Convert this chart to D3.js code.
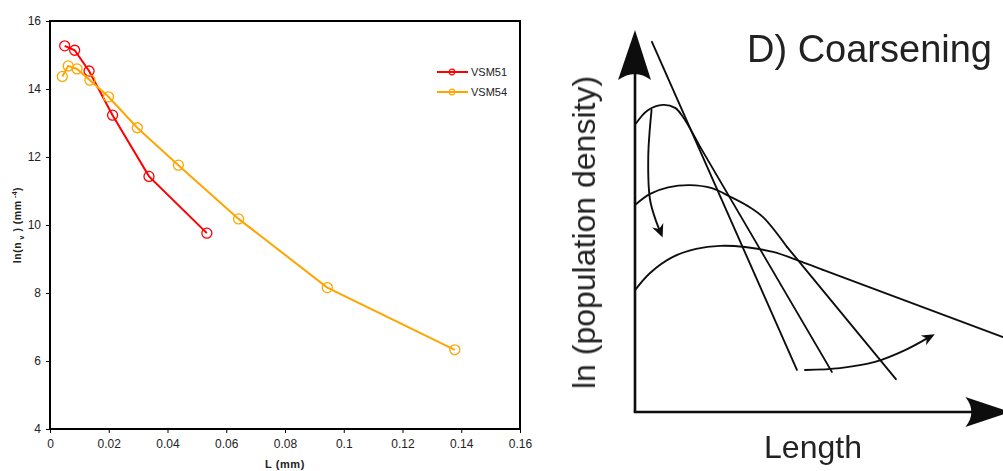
<!DOCTYPE html>
<html>
<head>
<meta charset="utf-8">
<script src="https://cdn.jsdelivr.net/npm/d3@7"></script>
<style>
  html, body { margin: 0; padding: 0; background: #fff; }
  svg { display: block; font-family: Arial, "Liberation Sans", sans-serif; }
</style>
</head>
<body>
<svg id="fig" width="1003" height="471"></svg>
<script>
// ---- Measured crystal size distributions ----
const vsm51L = [0.0050, 0.0084, 0.0133, 0.0213, 0.0337, 0.0534];
const vsm51N = [15.27, 15.14, 14.53, 13.23, 11.43, 9.76];
const vsm54L = [0.0042, 0.0062, 0.0092, 0.0136, 0.0199, 0.0297, 0.0437, 0.0642, 0.0944, 0.1378];
const vsm54N = [14.37, 14.68, 14.59, 14.26, 13.77, 12.86, 11.76, 10.18, 8.16, 6.33];
const seriesNames = ["VSM51", "VSM54"];
const seriesColors = ["#ff0000", "#ffa500"];
const xTicks = [0, 0.02, 0.04, 0.06, 0.08, 0.1, 0.12, 0.14, 0.16];
const yTicks = [4, 6, 8, 10, 12, 14, 16];

// ---- Schematic of coarsening (arbitrary units: length 0-10, ln density 0-10) ----
const steepLine = [[0.46, 9.69], [4.40, 1.10]];
const humpA = [[0.03, 7.56], [0.35, 7.90], [0.76, 8.04], [1.09, 7.96], [1.30, 7.73], [1.77, 6.94]];
const tailA = [[1.77, 6.94], [5.35, 1.05]];
const humpB = [[0, 5.42], [0.41, 5.71], [0.90, 5.88], [1.49, 5.94], [2.09, 5.86], [2.58, 5.64], [3.07, 5.39], [3.48, 5.10], [4.13, 4.32]];
const tailB = [[4.13, 4.32], [7.09, 0.86]];
const humpC = [[0, 3.19], [0.41, 3.64], [1.03, 4.06], [1.66, 4.27], [2.31, 4.35], [2.99, 4.32], [3.75, 4.19], [4.48, 3.95], [5.11, 3.72]];
const tailC = [[5.11, 3.72], [10.0, 1.96]];
const arrowDown = [[0.45, 7.91], [0.36, 6.68], [0.41, 5.55], [0.59, 4.95], [0.67, 4.76]];
const arrowRight = [[4.62, 1.10], [5.57, 1.15], [6.52, 1.31], [7.34, 1.62], [7.96, 1.94]];

const svg = d3.select("#fig");

// ================= Left: measured distributions =================
const x = d3.scaleLinear().domain([0, 0.16]).range([50, 520]);
const y = d3.scaleLinear().domain([4, 16]).range([429, 21]);

const chart = svg.append("g");

chart.append("rect")
  .attr("x", x(0)).attr("y", y(16))
  .attr("width", x(0.16) - x(0)).attr("height", y(4) - y(16))
  .attr("fill", "none").attr("stroke", "#000").attr("stroke-width", 2);

const xAxis = chart.append("g")
  .attr("transform", `translate(0,${y(4)})`)
  .call(d3.axisBottom(x).tickValues(xTicks).tickSize(4).tickPadding(6)
    .tickFormat(d => d3.format("~g")(d)));
const yAxis = chart.append("g")
  .attr("transform", `translate(${x(0)},0)`)
  .call(d3.axisLeft(y).tickValues(yTicks).tickSize(4).tickPadding(5));
[xAxis, yAxis].forEach(a => {
  a.select(".domain").remove();
  a.selectAll("line").attr("stroke", "#000").attr("stroke-width", 1);
  a.selectAll("text").attr("font-size", 12).attr("fill", "#222")
    .attr("font-family", 'Arial, "Liberation Sans", sans-serif');
});

chart.append("text")
  .attr("x", (x(0) + x(0.16)) / 2).attr("y", 468)
  .attr("text-anchor", "middle").attr("font-size", 11).attr("font-weight", "bold")
  .attr("letter-spacing", 0.6).attr("fill", "#222")
  .text("L (mm)");

const yTitle = chart.append("text")
  .attr("transform", `translate(21,${(y(4) + y(16)) / 2}) rotate(-90)`)
  .attr("text-anchor", "middle").attr("font-size", 10.5).attr("font-weight", "bold")
  .attr("letter-spacing", 0.5).attr("fill", "#222");
yTitle.append("tspan").text("ln(n");
yTitle.append("tspan").attr("font-size", 7).attr("dy", 3).text(" v");
yTitle.append("tspan").attr("dy", -3).text(" ) (mm");
yTitle.append("tspan").attr("font-size", 7).attr("dy", -4).text(" -4");
yTitle.append("tspan").attr("dy", 4).text(")");

const series = [
  vsm51L.map((l, i) => [l, vsm51N[i]]),
  vsm54L.map((l, i) => [l, vsm54N[i]])
];
const line = d3.line().x(d => x(d[0])).y(d => y(d[1]));

series.forEach((pts, k) => {
  const g = chart.append("g");
  g.append("path").datum(pts).attr("d", line)
    .attr("fill", "none").attr("stroke", seriesColors[k]).attr("stroke-width", 2);
  g.selectAll("circle").data(pts).join("circle")
    .attr("cx", d => x(d[0])).attr("cy", d => y(d[1])).attr("r", 5)
    .attr("fill", "none").attr("stroke", seriesColors[k]).attr("stroke-width", 1.3);
});

// legend
const legend = chart.append("g").attr("transform", "translate(437,72)");
seriesNames.forEach((name, k) => {
  const row = legend.append("g").attr("transform", `translate(0,${k * 20})`);
  row.append("line").attr("x1", 0).attr("x2", 31).attr("y1", 0).attr("y2", 0)
    .attr("stroke", seriesColors[k]).attr("stroke-width", 2);
  row.append("circle").attr("cx", 15).attr("cy", 0).attr("r", 2.8)
    .attr("fill", "none").attr("stroke", seriesColors[k]).attr("stroke-width", 1.2);
  row.append("text").attr("x", 34).attr("y", 4).attr("font-size", 11)
    .attr("fill", "#222").text(name);
});

// ================= Right: coarsening schematic =================
const xs = d3.scaleLinear().domain([0, 10]).range([635, 1003]);
const ys = d3.scaleLinear().domain([0, 10]).range([412, 30]);

const defs = svg.append("defs");
defs.append("filter").attr("id", "soft")
  .append("feGaussianBlur").attr("stdDeviation", 0.55);

const sketch = svg.append("g").attr("filter", "url(#soft)");
const ink = "#111";

const straight = d3.line().x(d => xs(d[0])).y(d => ys(d[1]));
const smooth = d3.line().x(d => xs(d[0])).y(d => ys(d[1])).curve(d3.curveCatmullRom.alpha(0.5));

// axes with large notched arrowheads
sketch.append("line")
  .attr("x1", xs(0)).attr("y1", ys(0)).attr("x2", xs(0)).attr("y2", ys(9.3))
  .attr("stroke", ink).attr("stroke-width", 2.6);
sketch.append("line")
  .attr("x1", xs(0) - 1.3).attr("y1", ys(0)).attr("x2", xs(9.2)).attr("y2", ys(0))
  .attr("stroke", ink).attr("stroke-width", 2.6);

const vTip = [xs(0), ys(10)];
sketch.append("path")
  .attr("d", `M${vTip[0]},${vTip[1]} L${vTip[0] + 16},${vTip[1] + 50} Q${vTip[0]},${vTip[1] + 38} ${vTip[0] - 17},${vTip[1] + 50} Z`)
  .attr("fill", ink);
const hTip = [xs(10.2), ys(0)];
sketch.append("path")
  .attr("d", `M${hTip[0]},${hTip[1]} L${hTip[0] - 45},${hTip[1] + 15} Q${hTip[0] - 33},${hTip[1]} ${hTip[0] - 45},${hTip[1] - 15} Z`)
  .attr("fill", ink);

// distributions
const curveStyle = sel => sel.attr("fill", "none").attr("stroke", ink)
  .attr("stroke-width", 1.9).attr("stroke-linejoin", "round").attr("stroke-linecap", "round");

sketch.append("path").datum(steepLine).attr("d", straight).call(curveStyle);
[[humpA, tailA], [humpB, tailB], [humpC, tailC]].forEach(([hump, tail]) => {
  sketch.append("path").datum(hump).attr("d", smooth).call(curveStyle);
  sketch.append("path").datum(tail).attr("d", straight).call(curveStyle);
});

// evolution arrows
function arrowHead(pts, len, half) {
  const a = pts[pts.length - 2], b = pts[pts.length - 1];
  const p0 = [xs(a[0]), ys(a[1])], p1 = [xs(b[0]), ys(b[1])];
  const dx = p1[0] - p0[0], dy = p1[1] - p0[1];
  const n = Math.hypot(dx, dy), ux = dx / n, uy = dy / n;
  const tip = [p1[0] + ux * len * 0.6, p1[1] + uy * len * 0.6];
  const base = [tip[0] - ux * len, tip[1] - uy * len];
  const notch = [tip[0] - ux * len * 0.7, tip[1] - uy * len * 0.7];
  return `M${tip[0]},${tip[1]} L${base[0] - uy * half},${base[1] + ux * half} L${notch[0]},${notch[1]} L${base[0] + uy * half},${base[1] - ux * half} Z`;
}
sketch.append("path").datum(arrowDown).attr("d", smooth).call(curveStyle);
sketch.append("path").attr("d", arrowHead(arrowDown, 13, 6)).attr("fill", ink);
sketch.append("path").datum(arrowRight).attr("d", smooth).call(curveStyle);
sketch.append("path").attr("d", arrowHead(arrowRight, 13, 5.5)).attr("fill", ink);

// labels
sketch.append("text")
  .attr("x", 747).attr("y", 62)
  .attr("font-size", 38).attr("fill", "#222")
  .text("D) Coarsening");
sketch.append("text")
  .attr("x", 813).attr("y", 458)
  .attr("text-anchor", "middle").attr("font-size", 32).attr("fill", "#222")
  .text("Length");
sketch.append("text")
  .attr("transform", `translate(595,${(70 + 395) / 2}) rotate(-90)`)
  .attr("text-anchor", "middle").attr("font-size", 32).attr("fill", "#222")
  .text("ln (population density)");
</script>
</body>
</html>
